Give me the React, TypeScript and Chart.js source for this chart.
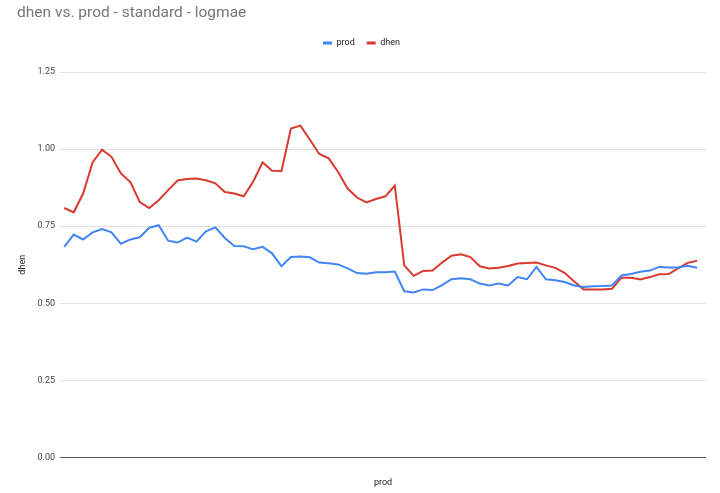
import React, { useEffect, useRef } from "react";
import { Chart, registerables } from "chart.js";

Chart.register(...registerables);

const chartTitle = "dhen vs. prod - standard - logmae";
const seriesNames = ["prod", "dhen"];
const seriesColors = ["#4285f4", "#d93a2f"];
const xAxisTitle = "prod";
const yAxisTitle = "dhen";
const yTicks = [0, 0.25, 0.5, 0.75, 1.0, 1.25];

const prod = [
  0.683, 0.723, 0.707, 0.730, 0.741, 0.730, 0.693, 0.707, 0.714, 0.745,
  0.753, 0.703, 0.697, 0.713, 0.700, 0.733, 0.746, 0.712, 0.686, 0.685,
  0.675, 0.683, 0.662, 0.620, 0.650, 0.652, 0.649, 0.632, 0.630, 0.626,
  0.613, 0.598, 0.596, 0.601, 0.601, 0.603, 0.539, 0.535, 0.545, 0.543,
  0.559, 0.578, 0.581, 0.578, 0.564, 0.558, 0.564, 0.558, 0.585, 0.578,
  0.618, 0.578, 0.575, 0.569, 0.558, 0.553, 0.555, 0.556, 0.558, 0.590,
  0.595, 0.602, 0.606, 0.618, 0.616, 0.616, 0.622, 0.615,
];

const dhen = [
  0.809, 0.795, 0.856, 0.957, 0.998, 0.975, 0.921, 0.893, 0.828, 0.809,
  0.834, 0.867, 0.898, 0.903, 0.905, 0.899, 0.889, 0.861, 0.856, 0.847,
  0.894, 0.957, 0.930, 0.929, 1.067, 1.076, 1.031, 0.984, 0.970, 0.926,
  0.872, 0.843, 0.827, 0.838, 0.847, 0.882, 0.623, 0.589, 0.605, 0.606,
  0.632, 0.654, 0.659, 0.650, 0.620, 0.613, 0.615, 0.621, 0.629, 0.631,
  0.632, 0.623, 0.615, 0.598, 0.571, 0.545, 0.545, 0.545, 0.547, 0.583,
  0.583, 0.577, 0.585, 0.594, 0.595, 0.613, 0.631, 0.638,
];

const FONT = "Roboto, 'Noto Sans', Arial, sans-serif";

export default function App() {
  const ref = useRef<HTMLCanvasElement | null>(null);

  useEffect(() => {
    if (!ref.current) return;
    const toPts = (arr: number[]) => arr.map((v, i) => ({ x: i, y: v }));
    const chart = new Chart(ref.current, {
      type: "line",
      data: {
        datasets: [
          {
            label: seriesNames[0],
            data: toPts(prod),
            borderColor: seriesColors[0],
            backgroundColor: seriesColors[0],
            borderWidth: 2,
            pointRadius: 0,
            tension: 0,
          },
          {
            label: seriesNames[1],
            data: toPts(dhen),
            borderColor: seriesColors[1],
            backgroundColor: seriesColors[1],
            borderWidth: 2,
            pointRadius: 0,
            tension: 0,
          },
        ],
      },
      options: {
        animation: false,
        responsive: false,
        maintainAspectRatio: false,
        layout: { padding: { left: 17, right: 14, top: 0, bottom: 0 } },
        plugins: {
          tooltip: { enabled: false },
          title: {
            display: true,
            text: chartTitle,
            align: "start",
            color: "#757575",
            font: { family: FONT, size: 15.5, weight: "normal" },
            padding: { top: 4, bottom: 3.9 },
          },
          legend: {
            display: true,
            position: "top",
            align: "center",
            labels: {
              color: "#222222",
              font: { family: FONT, size: 9 },
              boxWidth: 9,
              boxHeight: 3,
              padding: 12,
              generateLabels: (c: any) =>
                c.data.datasets.map((ds: any, i: number) => ({
                  text: ds.label,
                  fillStyle: ds.borderColor,
                  strokeStyle: ds.borderColor,
                  lineWidth: 0,
                  hidden: false,
                  datasetIndex: i,
                  fontColor: "#222222",
                })),
            },
          },
        },
        scales: {
          x: {
            type: "linear",
            position: "bottom",
            min: -0.45,
            max: 67.95,
            grid: { display: false, drawTicks: false },
            border: { display: false },
            ticks: { display: false },
            title: {
              display: true,
              text: xAxisTitle,
              color: "#222222",
              font: { family: FONT, size: 9 },
              padding: { top: 0, bottom: 4.5 },
            },
            afterFit: (s: any) => {
              s.height = 35.5;
            },
          },
          xTop: {
            type: "linear",
            axis: "x",
            position: "top",
            display: true,
            grid: { display: false, drawTicks: false },
            border: { display: false },
            ticks: { display: false },
            afterFit: (s: any) => {
              s.height = 14.5;
            },
          } as any,
          y: {
            type: "linear",
            min: 0,
            max: 1.25,
            afterBuildTicks: (s: any) => {
              s.ticks = yTicks.map((v) => ({ value: v }));
            },
            grid: {
              drawTicks: false,
              color: (ctx: any) =>
                ctx.tick && ctx.tick.value === 0 ? "#555555" : "#e0e0e0",
              lineWidth: 1,
            },
            border: { display: false },
            ticks: {
              color: "#444444",
              font: { family: FONT, size: 9 },
              padding: 5,
              callback: (v: any) => Number(v).toFixed(2),
            },
            title: {
              display: true,
              text: yAxisTitle,
              color: "#222222",
              font: { family: FONT, size: 9 },
              padding: { top: 0, bottom: 0 },
            },
            afterFit: (s: any) => {
              s.width = 43;
            },
          },
        },
      },
    } as any);
    return () => chart.destroy();
  }, []);

  return (
    <div
      style={{
        position: "fixed",
        left: 0,
        top: 0,
        width: 720,
        height: 493,
        background: "#ffffff",
      }}
    >
      <canvas ref={ref} width={720} height={493} style={{ width: 720, height: 493 }} />
    </div>
  );
}
